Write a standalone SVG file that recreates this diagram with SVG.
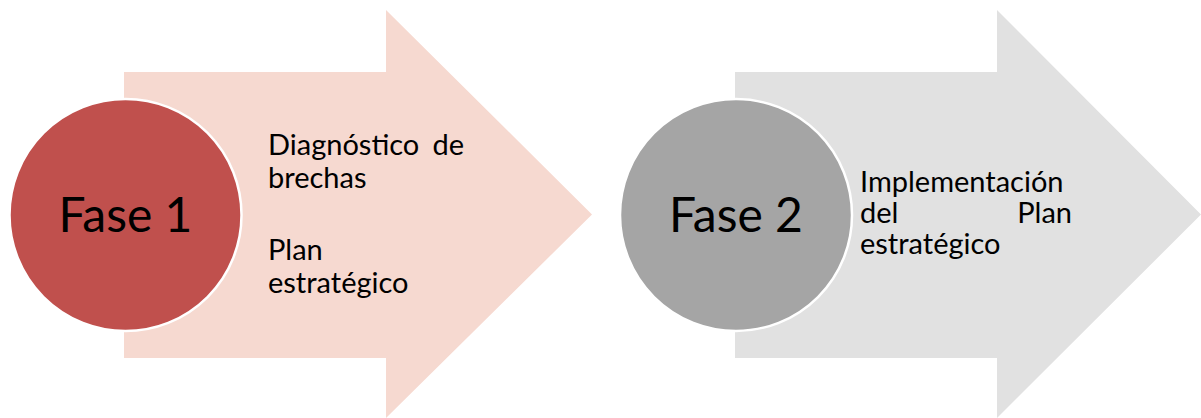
<svg xmlns="http://www.w3.org/2000/svg" width="1201" height="418" viewBox="0 0 1201 418">
  <style>
    .lbl { font-family: Lato, "Open Sans", "Liberation Sans", sans-serif; fill: #000; }
    .phase { font-size: 48px; text-anchor: middle; }
    .body { font-size: 29px; }
    .end { text-anchor: end; }
    .ring { stroke: #FFFFFF; stroke-width: 2.5; }
  </style>
  <rect width="1201" height="418" fill="#FFFFFF"/>
  <g id="fase1">
    <polygon points="124,72 386,72 386,10 592,214.5 386,418 386,358 124,358" fill="#F6D9D0"/>
    <circle class="ring" cx="125.5" cy="215" r="116" fill="#C0504D"/>
    <text class="lbl phase" x="125.5" y="232">Fase 1</text>
    <text class="lbl body" x="268" y="155">Diagnóstico</text>
    <text class="lbl body end" x="464" y="155">de</text>
    <text class="lbl body" x="268" y="188">brechas</text>
    <text class="lbl body" x="268" y="260">Plan</text>
    <text class="lbl body" x="268" y="293">estratégico</text>
  </g>
  <g id="fase2">
    <polygon points="735,72 997,72 997,10 1201,214.5 997,418 997,358 735,358" fill="#E1E1E1"/>
    <circle class="ring" cx="736" cy="215" r="116" fill="#A5A5A5"/>
    <text class="lbl phase" x="736" y="232">Fase 2</text>
    <text class="lbl body" x="860" y="192">Implementación</text>
    <text class="lbl body" x="860" y="223">del</text>
    <text class="lbl body end" x="1072" y="223">Plan</text>
    <text class="lbl body" x="860" y="254">estratégico</text>
  </g>
</svg>
